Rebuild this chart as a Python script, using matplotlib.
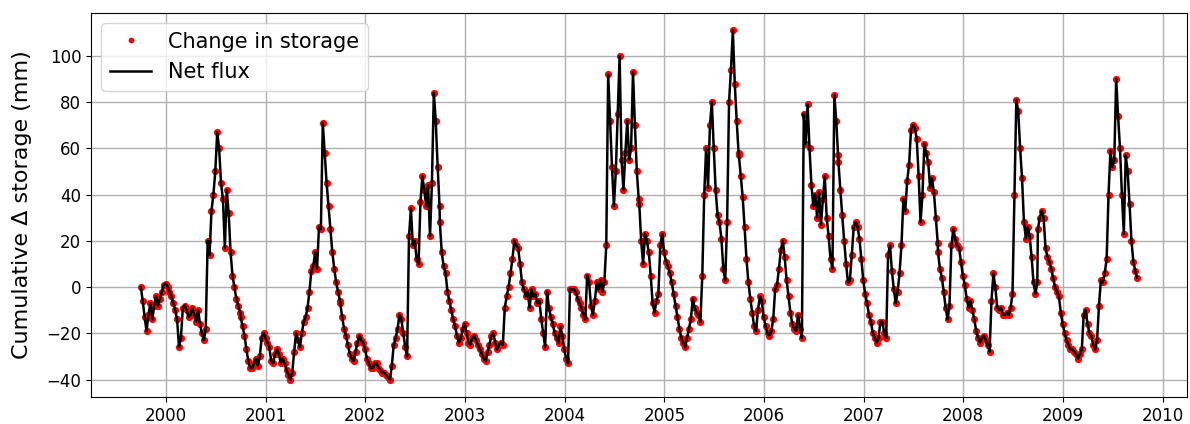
import matplotlib
matplotlib.use("Agg")
import matplotlib.pyplot as plt
import matplotlib.dates as mdates
import pandas as pd
import numpy as np

# Weekly readings (mm) per water year, starting 1 October of the previous year
wy2000 = [0, -6, -13, -19, -12, -7, -14, -8, -4, -8, -5, -2, 1, 1.5, 0, -2, -4, -7, -10, -14,
          -26, -22, -9, -8, -10, -13, -12, -9, -12, -15, -10, -16, -20, -23, -18, 20, 14, 33, 40, 50,
          67, 60, 45, 38, 17, 42, 32, 15, 5, 0, -5, -8, -11]
wy2001 = [-13, -17, -21, -27, -32, -35, -35, -33, -31, -34, -30, -22, -20, -22, -24, -26, -32, -33, -29, -27,
          -29, -33, -31, -33, -36, -38, -40, -37, -28, -20, -23, -26, -20, -15, -13, -9, -2, 7, 9, 15,
          8, 26, 25, 71, 58, 45, 35, 25, 15, 8, 2, -2, -6]
wy2002 = [-7, -13, -18, -21, -25, -29, -31, -32, -28, -24, -21, -23, -24, -27, -31, -33, -35, -35, -33, -33,
          -35, -36, -37, -37, -38, -39, -40, -34, -25, -22, -18, -12, -14, -20, -26, -30, 22, 34, 18, 20,
          12, 10, 37, 48, 42, 35, 44, 22, 45, 84, 72, 52, 35]
wy2003 = [28, 15, 9, 6, -2, -6, -10, -14, -17, -21, -24, -22, -18, -16, -20, -24, -25, -22, -21, -23,
          -25, -27, -29, -31, -32, -28, -25, -21, -20, -24, -27, -25, -24, -25, -9, -4, 0, 6, 12, 20,
          18, 17, 10, 2, -1, -4, -2, -9, -1, -4, -3, -7, -6]
wy2004 = [-6, -14, -20, -26, -2, -9, -13, -16, -20, -22, -24, -17, -21, -27, -31, -33, -1, -1, -1, -2,
          -5, -7, -9, -12, -14, 5, 2, -8, -12, -6, 2, -1, 3, -2, 2, 18, 92, 72, 52, 35,
          50, 75, 100, 55, 42, 58, 72, 55, 60, 93, 70, 50, 38]
wy2005 = [36, 20, 10, 23, 20, 15, 5, -7, -11, -6, -3, 18, 23, 15, 11, 9, 6, 2, -3, -8,
          -13, -18, -22, -24, -26, -22, -18, -14, -5, -9, -11, -12, -15, 5, 40, 60, 43, 70, 80, 60,
          42, 31, 28, 21, 8, 3, 28, 80, 94, 111, 88, 72, 58]
wy2006 = [57, 48, 39, 26, 12, 2, -5, -11, -17, -19, -10, -4, -6, -13, -17, -20, -21, -19, -14, -1,
          1, 8, 16, 20, 13, 3, -4, -11, -16, -18, -19, -12, -18, -22, 75, 62, 79, 60, 44, 35,
          40, 30, 41, 27, 38, 48, 30, 22, 12, 8, 83, 72, 57]
wy2007 = [54, 42, 31, 20, 10, 2, 3, 14, 26, 28, 26, 21, 12, 3, -3, -7, -12, -15, -20, -22,
          -24, -22, -15, -15, -20, -22, 14, 18, 7, -1, -7, -2, 6, 18, 38, 33, 46, 53, 68, 70,
          69, 64, 48, 28, 40, 62, 58, 54, 43, 47, 41, 30, 19]
wy2008 = [15, 8, 4, -2, -9, -14, -8, 18, 25, 21, 18, 17, 11, 5, 1, -5, -9, -6, -10, -14,
          -19, -22, -24, -22, -21, -23, -25, -28, -6, 6, 0, -9, -10, -9, -12, -12, -11, -12, -9, -3,
          40, 81, 76, 60, 47, 28, 21, 26, 22, 13, 2, -3, 2]
wy2009 = [25, 30, 33, 30, 17, 13, 11, 8, 4, 0, -2, -4, -11, -16, -20, -23, -25, -27, -27, -28,
          -29, -31, -29, -27, -12, -10, -16, -20, -21, -25, -27, -23, -8, 3, 2, 6, 12, 40, 59, 52,
          55, 90, 74, 60, 40, 23, 57, 50, 36, 20, 11, 7, 4]

water_years = [2000, 2001, 2002, 2003, 2004, 2005, 2006, 2007, 2008, 2009]
series = [wy2000, wy2001, wy2002, wy2003, wy2004, wy2005, wy2006, wy2007, wy2008, wy2009]

dates = []
values = []
for wy, vals in zip(water_years, series):
    d = pd.date_range(start=f"{wy-1}-10-01", periods=len(vals), freq="7D")
    dates.extend(d)
    values.extend(vals)
dates = pd.DatetimeIndex(dates)
values = np.array(values, dtype=float)

fig = plt.figure(figsize=(11.9, 4.24), dpi=100)
ax = fig.add_axes([91/1190, 1 - 397/424, (1187 - 91)/1190, (397 - 13)/424])

ax.plot(dates, values, 'o', color='red', markersize=5.2, markeredgewidth=0,
        label='Change in storage', zorder=2)
ax.plot(dates, values, '-', color='black', linewidth=1.8, label='Net flux', zorder=3)

ax.xaxis.set_major_locator(mdates.YearLocator())
ax.xaxis.set_major_formatter(mdates.DateFormatter('%Y'))
ax.set_yticks([-40, -20, 0, 20, 40, 60, 80, 100])
ax.grid(True, color='#b0b0b0', linewidth=1)
ax.set_axisbelow(True)
ax.tick_params(labelsize=12)
ax.set_ylabel('Cumulative Δ storage (mm)', fontsize=16, labelpad=10)
leg = ax.legend(loc='upper left', fontsize=15, markerscale=0.8)

fig.savefig('out.png', dpi=100)
